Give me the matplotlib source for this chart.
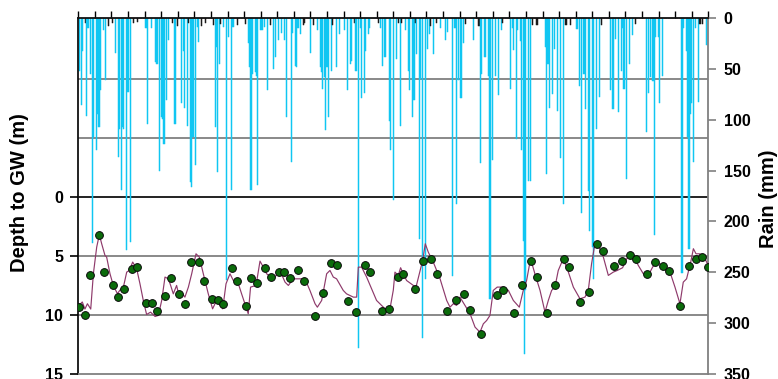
import matplotlib
matplotlib.use("Agg")
import matplotlib.pyplot as plt
import numpy as np
from matplotlib.lines import Line2D
from matplotlib.transforms import blended_transform_factory

plt.rcParams['font.family'] = ['Liberation Sans', 'DejaVu Sans']
plt.rcParams['font.weight'] = 'bold'

# ---------------- data ----------------
n_years = 38
# monthly rainfall (month index from start, mm); months not listed are 0
rain_month = [1, 2, 3, 5, 6, 7, 9, 10, 11, 13, 14, 15, 16, 18, 20, 22, 25, 27, 29, 30, 31, 32, 33, 35, 36, 38, 40, 43, 49, 50, 53, 56, 57, 59, 60, 61, 62, 64, 65, 68, 70, 72, 75,
              76, 77, 79, 80, 81, 82, 83, 85, 86, 87, 89, 92, 98, 99, 100, 101, 102, 103, 105, 107, 109, 111, 112, 115, 121, 123, 124, 125, 126, 128, 129, 130, 132, 133, 135, 137, 139, 141, 143, 145, 147, 149, 151,
              154, 155, 157, 158, 159, 161, 163, 164, 168, 170, 173, 175, 176, 177, 178, 179, 180, 181, 183, 184, 187, 189, 193, 195, 197, 198, 200, 201, 203, 204, 205, 207, 208, 210, 211, 217, 219, 220, 222, 225, 226, 228,
              230, 232, 233, 234, 237, 239, 240, 242, 243, 244, 245, 247, 248, 249, 251, 253, 254, 255, 257, 259, 262, 266, 267, 271, 272, 273, 274, 275, 277, 279, 280, 286, 290, 291, 292, 294, 295, 297, 298, 300, 302, 304, 306,
              307, 313, 314, 315, 317, 318, 320, 321, 322, 323, 324, 326, 327, 329, 332, 338, 339, 340, 341, 343, 345, 347, 349, 351, 353, 356, 361, 363, 364, 366, 367, 369, 370, 372, 373, 375, 377, 379,
              385, 387, 389, 391, 393, 394, 395, 397, 399, 401, 403, 411, 413, 414, 416, 417, 418, 420, 421, 423, 437, 438, 440, 441, 442, 443, 444, 445, 447, 449, 450, 452, 455]
rain_mm = [52, 86, 32, 5, 96, 10, 55, 221, 117, 130, 94, 107, 71, 12, 61, 8, 5, 34, 137, 109, 169, 107, 109, 228, 73, 220, 5, 4, 10, 104, 10, 43, 45, 150, 97, 99, 124, 81, 22, 5, 104, 8, 84,
           32, 88, 106, 5, 161, 166, 117, 145, 9, 24, 8, 5, 7, 107, 29, 151, 45, 6, 9, 258, 19, 169, 9, 7, 6, 25, 48, 169, 55, 53, 57, 164, 12, 12, 9, 71, 7, 50, 38, 22, 15, 22, 97,
           142, 15, 47, 48, 10, 16, 7, 5, 34, 7, 12, 48, 53, 70, 58, 110, 48, 97, 52, 7, 48, 16, 12, 71, 45, 42, 5, 52, 324, 10, 79, 74, 32, 16, 10, 5, 10, 47, 38, 101, 130, 179,
           40, 5, 106, 5, 12, 52, 71, 97, 81, 5, 35, 217, 60, 315, 257, 30, 16, 8, 35, 5, 10, 22, 14, 254, 10, 10, 183, 61, 79, 25, 6, 22, 8, 143, 55, 38, 38, 57, 276, 140, 57, 76, 12,
           5, 70, 10, 31, 119, 12, 23, 130, 219, 330, 267, 160, 160, 7, 7, 29, 153, 45, 88, 75, 30, 91, 138, 183, 7, 7, 11, 67, 192, 55, 89, 170, 209, 225, 257, 109, 78, 7,
           71, 89, 21, 92, 52, 10, 70, 158, 45, 17, 6, 112, 74, 58, 62, 213, 19, 19, 84, 57, 251, 10, 32, 117, 227, 94, 84, 142, 10, 83, 6, 6, 27]

# observed depth to groundwater (time in years from start, m)
obs_t = [0.04, 0.40, 0.72, 1.25, 1.57, 2.07, 2.39, 2.76, 3.24, 3.56, 4.07, 4.43, 4.75, 5.25, 5.57, 6.09, 6.42, 6.78, 7.26, 7.58,
         8.06, 8.43, 8.75, 9.25, 9.57, 10.10, 10.42, 10.76, 11.28, 11.60, 12.11, 12.42, 12.75, 13.25, 13.59, 14.28, 14.76, 15.26, 15.60, 16.28,
         16.77, 17.27, 17.59, 18.30, 18.77, 19.27, 19.60, 20.29, 20.77, 21.27, 21.62, 22.26, 22.78, 23.28, 23.61, 24.27, 25.27, 25.62, 26.28, 26.76,
         27.29, 27.65, 28.27, 28.77, 29.28, 29.60, 30.26, 30.80, 31.29, 31.63, 32.31, 32.79, 33.27, 33.62, 34.28, 34.78, 35.28, 35.61, 36.31, 36.81,
         37.27, 37.62, 37.96]
obs_d = [9.3, 10.0, 6.6, 3.2, 6.4, 7.5, 8.5, 7.8, 6.1, 5.95, 9.0, 9.0, 9.65, 8.4, 6.85, 8.2, 9.1, 5.55, 5.55, 7.15,
         8.65, 8.7, 9.1, 6.05, 7.15, 9.25, 6.85, 7.3, 6.05, 6.75, 6.4, 6.4, 6.9, 6.2, 7.1, 10.1, 8.15, 5.6, 5.75, 8.8,
         9.75, 5.75, 6.4, 9.65, 9.5, 6.75, 6.55, 7.8, 5.45, 5.3, 6.5, 9.65, 8.75, 8.2, 9.55, 11.6, 8.3, 7.85, 9.8, 7.45,
         5.45, 6.75, 9.8, 7.45, 5.3, 5.9, 8.9, 8.05, 3.95, 4.6, 5.85, 5.45, 4.9, 5.3, 6.55, 5.55, 5.85, 6.3, 9.2, 5.85,
         5.3, 5.1, 5.9]

# simulated depth to groundwater
sim_t = [0.04, 0.24, 0.40, 0.55, 0.75, 0.91, 1.11, 1.27, 1.41, 1.61, 1.71, 1.91, 2.11, 2.36, 2.51, 2.72, 2.92, 3.08, 3.28, 3.52,
         3.72, 3.92, 4.12, 4.36, 4.63, 4.83, 5.03, 5.23, 5.43, 5.57, 5.73, 5.93, 6.09, 6.29, 6.43, 6.64, 6.84, 7.10, 7.30, 7.54,
         7.84, 8.10, 8.34, 8.50, 8.71, 8.91, 9.15, 9.35, 9.59, 9.85, 10.25, 10.39, 10.72, 10.96, 11.16, 11.36, 11.60, 11.86, 12.16, 12.47,
         12.67, 12.97, 13.37, 13.67, 13.97, 14.28, 14.42, 14.68, 14.98, 15.18, 15.38, 15.58, 15.98, 16.18, 16.59, 16.79, 16.89, 17.09, 17.39, 17.99,
         18.50, 18.80, 19.00, 19.10, 19.30, 19.44, 19.56, 19.80, 20.21, 20.37, 20.57, 20.77, 20.93, 21.11, 21.41, 21.82, 22.22, 22.42, 22.62, 22.82,
         23.02, 23.32, 23.63, 23.93, 24.23, 24.43, 24.63, 24.83, 25.03, 25.27, 25.64, 25.94, 26.24, 26.60, 26.84, 27.04, 27.28, 27.54, 27.85, 28.15,
         28.35, 28.55, 28.75, 28.95, 29.25, 29.56, 29.86, 30.26, 30.56, 30.76, 30.96, 31.16, 31.36, 31.67, 31.97, 32.27, 32.51, 32.83, 33.08, 33.28,
         33.52, 33.78, 34.08, 34.38, 34.64, 34.88, 35.19, 35.45, 35.69, 35.99, 36.29, 36.49, 36.69, 36.94, 37.10, 37.26, 37.46, 37.70, 38.00]
sim_d = [9.2, 8.9, 9.5, 9.05, 9.5, 6.5, 4.25, 3.2, 3.97, 4.96, 5.1, 6.5, 7.5, 8.2, 7.9, 7.64, 6.37, 6.23, 5.52, 6.09,
         7.36, 8.77, 9.96, 9.76, 10.13, 10.04, 8.77, 6.79, 6.94, 7.5, 8.21, 7.5, 8.49, 8.21, 8.49, 7.64, 6.51, 4.82, 5.1, 6.51,
         8.21, 9.48, 8.77, 9.05, 9.48, 7.36, 6.51, 7.08, 7.08, 8.21, 9.9, 7.64, 7.5, 5.44, 5.95, 6.51, 6.79, 6.79, 6.23, 7.22,
         7.5, 6.94, 6.94, 6.94, 7.92, 9.05, 9.34, 8.77, 6.51, 6.23, 6.79, 6.94, 7.92, 8.21, 8.49, 8.49, 5.95, 5.95, 6.79, 8.77,
         9.48, 9.48, 7.9, 6.37, 6.65, 6.0, 6.37, 7.08, 7.5, 7.64, 6.51, 5.38, 3.97, 4.68, 5.52, 6.94, 8.77, 9.34, 9.05, 9.19,
         8.49, 9.19, 9.9, 11.03, 11.46, 10.75, 10.47, 10.04, 7.92, 7.64, 7.64, 7.92, 8.77, 9.34, 7.92, 7.08, 5.24, 6.51, 7.92, 9.76,
         8.77, 7.92, 7.64, 6.23, 5.24, 6.37, 7.64, 8.63, 8.49, 7.92, 5.66, 3.97, 4.11, 5.1, 6.65, 6.37, 6.23, 6.0, 5.24, 4.82,
         5.1, 5.81, 6.51, 6.65, 5.95, 5.52, 5.81, 6.23, 6.37, 7.64, 9.05, 7.22, 6.94, 5.52, 4.39, 4.82, 4.82, 4.96, 5.81]

depth_ticks = [0, 5, 10, 15]
depth_grid = [-10, -5, 0, 5, 10]
rain_ticks = [0, 50, 100, 150, 200, 250, 300, 350]

assert len(rain_month) == len(rain_mm)
assert len(obs_t) == len(obs_d)
assert len(sim_t) == len(sim_d)

# ---------------- figure ----------------
fig = plt.figure(figsize=(7.78, 3.79), dpi=100)
ax_r = fig.add_axes([78.3 / 778, 5 / 379, 630 / 778, 356 / 379])
ax_g = ax_r.twinx()

# monthly rain array
rain = np.zeros(n_years * 12)
rain[np.array(rain_month)] = rain_mm
months = np.arange(n_years * 12)
x_month = months / 12.0
colors = [('#1a1a1a' if v < 9 else '#10C6F2') for v in rain]
ax_r.bar(x_month, rain, width=0.8 / 12, color=colors, edgecolor=colors, linewidth=0.35,
         align='center', zorder=2)

ax_r.set_xlim(0, n_years)
ax_r.set_ylim(350, 0)
ax_g.set_ylim(15, -15.15)

# gridlines at depth values (drawn beneath bars / data)
tr = blended_transform_factory(ax_r.transAxes, ax_g.transData)
for gy in depth_grid:
    col = '#111111' if gy == 0 else '#808080'
    ax_r.add_line(Line2D([0, 1], [gy, gy], transform=tr, color=col, lw=1.3, zorder=1))

# rain axis on the right
ax_r.yaxis.tick_right()
ax_r.set_yticks(rain_ticks)
ax_r.tick_params(axis='y', direction='out', length=6, width=1.2, color='#808080',
                 labelsize=11.5, pad=5, labelcolor='black')
ax_r.xaxis.set_ticks_position('top')
ax_r.set_xticks(np.arange(0, n_years + 1))
ax_r.tick_params(axis='x', direction='out', length=5, width=1.0, color='black',
                 labeltop=False, labelbottom=False)

for side, col in [('left', '#111111'), ('top', '#111111'), ('right', '#808080'), ('bottom', '#808080')]:
    ax_r.spines[side].set_color(col)
    ax_r.spines[side].set_linewidth(1.3)

# depth axis on the left
ax_g.yaxis.tick_left()
ax_g.set_yticks(depth_ticks)
ax_g.tick_params(axis='y', direction='out', length=6, width=1.2, color='black',
                 labelsize=11.5, pad=5)
for s in ax_g.spines.values():
    s.set_visible(False)

ax_g.plot(sim_t, sim_d, color='#8E3A6B', lw=0.85, zorder=3)
ax_g.plot(obs_t, obs_d, linestyle='none', marker='o', markersize=5.6,
          markerfacecolor='#0B6B0B', markeredgecolor='#0a0a0a', markeredgewidth=0.7, zorder=4)
ax_g.set_xlim(0, n_years)

for lbl in ax_r.get_yticklabels() + ax_g.get_yticklabels():
    lbl.set_fontweight('bold')

fig.text(20 / 778, 1 - 193 / 379, 'Depth to GW (m)', rotation=90, ha='center', va='center',
         fontsize=14.5, fontweight='bold')
fig.text(769 / 778, 1 - 199 / 379, 'Rain (mm)', rotation=90, ha='center', va='center',
         fontsize=14.5, fontweight='bold')

fig.savefig('out.png', dpi=100)
